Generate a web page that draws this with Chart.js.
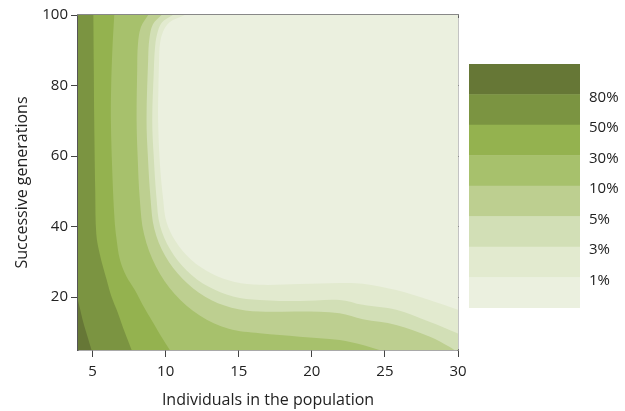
<!DOCTYPE html>
<html>
<head>
<meta charset="utf-8">
<script src="https://cdn.jsdelivr.net/npm/chart.js@4.4.1/dist/chart.umd.min.js"></script>
<style>
  html, body { margin: 0; padding: 0; background: #fff; }
  #wrap { position: relative; width: 625px; height: 411px; }
  #main { position: absolute; left: 0; top: 0; }
  #bar { position: absolute; left: 469px; top: 64px; }
</style>
</head>
<body>
<div id="wrap">
  <canvas id="main" width="625" height="411"></canvas>
  <canvas id="bar" width="156" height="244"></canvas>
</div>
<script>
// contour levels, lightest band first
const levelLabels = ['1%', '3%', '5%', '10%', '30%', '50%', '80%'];
const levelColors = ['#ebf0df', '#e2eacf', '#d2dfb6', '#bdcf90', '#a7c16c', '#94b24f', '#7b9441', '#667736'];

// contour lines: [individuals, generations]
const line80 = [[4, 19], [4.15, 16.5], [4.35, 13], [4.6, 9.5], [4.93, 5]];
const line50 = [[5.05, 100], [5.08, 85], [5.11, 70], [5.18, 50], [5.25, 38], [5.5, 32], [5.96, 24.9], [6.3, 20], [6.73, 15.5], [7.2, 10], [7.67, 5]];
const line30 = [[6.48, 100], [6.35, 90], [6.27, 80], [6.25, 70], [6.35, 55], [6.5, 42], [6.62, 37], [6.87, 30.6], [7.3, 26], [7.89, 22], [8.4, 18], [9.03, 13.5], [9.6, 9.5], [10.28, 5]];
const line10 = [[8.8, 100], [8.3, 96.5], [8.1, 91.6], [8.05, 84.5], [8.01, 70.3], [8.08, 60], [8.23, 47.6], [8.52, 37.8], [9.33, 28.7], [10.63, 20.8], [12.33, 14.8], [14.31, 11], [16.43, 9.74], [19.16, 8.78], [21.9, 7.84], [23.49, 6.42], [24.63, 5]];
const line5 = [[9.72, 100], [9.12, 97.3], [8.88, 93.1], [8.8, 87.4], [8.69, 70.3], [8.78, 60], [8.97, 47.6], [9.22, 39.4], [9.96, 31.7], [11.15, 25.2], [12.7, 20.1], [14.5, 17], [16.43, 15.9], [19.16, 15.9], [21.9, 15.4], [23.49, 13.7], [25.77, 12.1], [28.04, 8.8], [29.41, 5.9], [29.75, 5]];
const line3 = [[10.49, 100], [9.74, 97.9], [9.4, 94.4], [9.26, 90.2], [9.19, 84.5], [9.08, 70.3], [9.18, 60], [9.38, 47.6], [9.61, 40.3], [10.32, 33.4], [11.45, 27.5], [12.91, 23], [14.61, 20.2], [16.43, 19.2], [19.16, 18.9], [21.9, 19.2], [23.49, 17.8], [25.77, 16.4], [28.04, 13], [30, 9.7]];
const line1 = [[11.31, 100], [10.29, 98], [9.81, 95.2], [9.6, 91.5], [9.55, 87.3], [9.5, 78.8], [9.48, 70.3], [9.6, 58], [9.83, 47.6], [10.05, 41.4], [10.71, 35.6], [11.76, 30.5], [13.13, 26.7], [14.72, 24.3], [16.43, 23.5], [19.16, 23.7], [21.9, 24], [23.49, 23.8], [25.77, 22], [28.04, 19.2], [30, 16.4]];

const xTicks = [5, 10, 15, 20, 25, 30];
const yTicks = [20, 40, 60, 80, 100];
const xRange = [4, 30];
const yRange = [5, 100];

const font = { family: "'Open Sans', sans-serif", size: 15 };
const titleFont = { family: "'Open Sans', sans-serif", size: 16 };
const textColor = '#222';

// turn a contour line into a closed shape covering its lighter side
// (ends are pushed just outside the plot so the clip hides the closing edges)
function lighterSide(pts) {
    const n = pts.length;
    const head = [2 * pts[0][0] - pts[1][0], 2 * pts[0][1] - pts[1][1]];
    const tail = [2 * pts[n - 1][0] - pts[n - 2][0], 2 * pts[n - 1][1] - pts[n - 2][1]];
    return [head, ...pts, tail, [60, -50], [60, 150], [0, 150]].map(p => ({ x: p[0], y: p[1] }));
}

const contourLines = [line1, line3, line5, line10, line30, line50, line80];

const datasets = contourLines.map((pts, i) => ({
    data: lighterSide(pts),
    backgroundColor: levelColors[i],
    borderColor: 'transparent',
    borderWidth: 0,
    pointRadius: 0,
    tension: 0.35,
    fill: 'shape',
    order: i + 1
}));
datasets.push({
    data: [[0, -50], [60, -50], [60, 150], [0, 150]].map(p => ({ x: p[0], y: p[1] })),
    backgroundColor: levelColors[7],
    borderColor: 'transparent',
    borderWidth: 0,
    pointRadius: 0,
    tension: 0,
    fill: 'shape',
    order: 8
});

const setTicks = values => scale => { scale.ticks = values.map(v => ({ value: v })); };

new Chart(document.getElementById('main'), {
    type: 'line',
    data: { datasets: datasets },
    options: {
        responsive: false,
        animation: false,
        devicePixelRatio: 1,
        layout: { padding: 0 },
        plugins: { legend: { display: false }, tooltip: { enabled: false } },
        scales: {
            x: {
                type: 'linear', position: 'bottom', min: xRange[0], max: xRange[1],
                afterBuildTicks: setTicks(xTicks),
                afterFit: s => { s.height = 61; },
                ticks: { font: font, color: textColor, padding: 6, maxRotation: 0 },
                grid: { drawOnChartArea: false, tickLength: 7, color: '#444' },
                border: { color: '#555', width: 1.5 },
                title: { display: true, text: 'Individuals in the population', font: titleFont, color: textColor, padding: { top: 0, bottom: 1 } }
            },
            y: {
                type: 'linear', position: 'left', min: yRange[0], max: yRange[1],
                afterBuildTicks: setTicks(yTicks),
                afterFit: s => { s.width = 78; },
                ticks: { font: font, color: textColor, padding: 3 },
                grid: { drawOnChartArea: false, tickLength: 7, color: '#444' },
                border: { color: '#555', width: 1.5 },
                title: { display: true, text: 'Successive generations', font: titleFont, color: textColor, padding: { top: 13, bottom: 0 } }
            },
            x2: {
                type: 'linear', position: 'top', min: xRange[0], max: xRange[1],
                afterBuildTicks: setTicks(xTicks),
                afterFit: s => { s.height = 15; },
                ticks: { display: false },
                grid: { drawOnChartArea: false, tickLength: -3, color: '#333' },
                border: { color: '#888', width: 1.5 }
            },
            y2: {
                type: 'linear', position: 'right', min: yRange[0], max: yRange[1],
                afterBuildTicks: setTicks(yTicks),
                afterFit: s => { s.width = 167; },
                ticks: { display: false },
                grid: { drawOnChartArea: false, tickLength: -3, color: '#333' },
                border: { color: '#888', width: 1.5 }
            }
        }
    }
});

// colour key
new Chart(document.getElementById('bar'), {
    type: 'bar',
    data: {
        labels: [''],
        datasets: levelColors.map(c => ({
            data: [1],
            backgroundColor: c,
            borderWidth: 0,
            barPercentage: 1,
            categoryPercentage: 1
        }))
    },
    options: {
        responsive: false,
        animation: false,
        devicePixelRatio: 1,
        layout: { padding: 0 },
        plugins: { legend: { display: false }, tooltip: { enabled: false } },
        scales: {
            x: { stacked: true, display: false },
            y: {
                stacked: true, position: 'right', min: 0, max: levelColors.length,
                afterBuildTicks: s => { s.ticks = levelLabels.map((_, i) => ({ value: i + 1 })); },
                afterFit: s => { s.width = 45; s.paddingTop = 0; s.paddingBottom = 0; },
                ticks: { font: font, color: textColor, padding: 9, labelOffset: 3, callback: v => levelLabels[v - 1] },
                grid: { display: false, drawTicks: false },
                border: { display: false }
            }
        }
    }
});
</script>
</body>
</html>
